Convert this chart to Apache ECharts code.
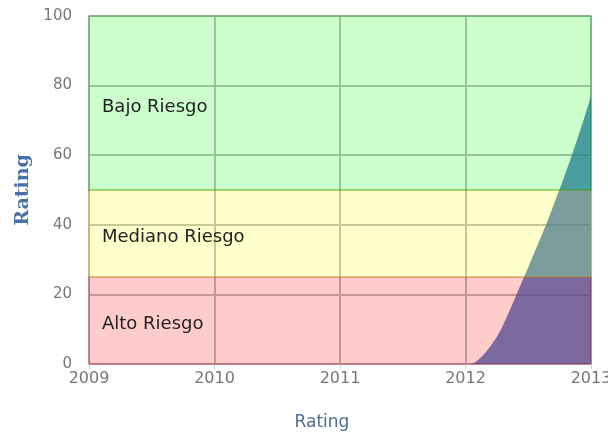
<!DOCTYPE html>
<html>
<head>
<meta charset="utf-8">
<script src="https://cdn.jsdelivr.net/npm/echarts@6/dist/echarts.min.js"></script>
<style>
  html, body { margin: 0; padding: 0; background: #fff; }
  #chart { width: 608px; height: 435px; }
</style>
</head>
<body>
<div id="chart"></div>
<script>
// Rating curve over 2012 (decimal years) and its values
const ratingYears = [2012.044, 2012.08, 2012.12, 2012.16, 2012.2, 2012.25, 2012.3, 2012.35, 2012.4, 2012.45,
  2012.5, 2012.55, 2012.6, 2012.65, 2012.7, 2012.75, 2012.8, 2012.85, 2012.9, 2012.95, 2013];
const ratingValues = [0, 0.6, 1.8, 3.3, 5.2, 7.8, 11.2, 15.2, 19.4, 23.6,
  27.8, 32.1, 36.4, 40.8, 45.5, 50.3, 55.2, 60.3, 65.6, 71.1, 77];

// Risk bands: label, lower and upper rating bound
const bandNames = ['Alto Riesgo', 'Mediano Riesgo', 'Bajo Riesgo'];
const bandLows = [0, 25, 50];
const bandHighs = [25, 50, 100];
const bandFills = ['rgba(255,0,0,0.2)', 'rgba(255,255,0,0.2)', 'rgba(0,255,0,0.2)'];
const bandBorders = ['rgba(180,0,30,0.25)', 'rgba(180,180,0,0.25)', 'rgba(0,140,0,0.25)'];

// Axis ranges and ticks
const xMin = 2009, xMax = 2013, xStep = 1;
const yMin = 0, yMax = 100, yStep = 20;
const axisTitle = 'Rating';

const chart = echarts.init(document.getElementById('chart'));

const bandData = bandNames.map((name, i) => [
  {
    yAxis: bandLows[i],
    xAxis: xMin - 0.01,
    name: name,
    itemStyle: { color: bandFills[i], borderColor: bandBorders[i], borderWidth: 2 }
  },
  { yAxis: bandHighs[i], xAxis: xMax + 0.03 }
]);

chart.setOption({
  animation: false,
  grid: { left: 89, right: 17, top: 16, bottom: 71, containLabel: false, outerBoundsMode: 'none' },
  xAxis: {
    type: 'value',
    min: xMin, max: xMax, interval: xStep,
    name: axisTitle,
    nameLocation: 'middle',
    nameGap: 50,
    nameTextStyle: { color: '#4d6d8f', fontSize: 17, fontFamily: 'DejaVu Sans', padding: [0, 36, 0, 0] },
    axisLine: { show: false },
    axisTick: { show: true, length: 5, lineStyle: { color: '#c0d0e0' } },
    axisLabel: {
      color: '#777', fontSize: 16, fontFamily: 'DejaVu Sans', margin: 7,
      formatter: v => String(v)
    },
    splitLine: { show: true, lineStyle: { color: '#bbbbbb', width: 2 } }
  },
  yAxis: {
    type: 'value',
    min: yMin, max: yMax, interval: yStep,
    name: axisTitle,
    nameLocation: 'middle',
    nameGap: 56,
    nameRotate: 90,
    nameTextStyle: { color: '#4572a7', fontSize: 19, fontWeight: 'bold', fontFamily: 'DejaVu Serif' },
    axisLine: { show: false },
    axisTick: { show: false },
    axisLabel: { color: '#777', fontSize: 15, fontFamily: 'DejaVu Sans', margin: 17 },
    splitLine: { show: true, lineStyle: { color: '#bbbbbb', width: 2 } }
  },
  series: [
    {
      type: 'line',
      z: 2,
      smooth: 0.3,
      symbol: 'none',
      lineStyle: { width: 0 },
      areaStyle: { color: 'rgba(36,91,177,0.75)', opacity: 1 },
      data: ratingYears.map((x, i) => [x, ratingValues[i]])
    },
    {
      type: 'line',
      z: 3,
      data: [],
      markArea: {
        silent: true,
        z: 3,
        label: {
          show: true,
          position: 'insideLeft',
          distance: 14,
          offset: [0, 4],
          color: '#222',
          fontSize: 18,
          fontFamily: 'DejaVu Sans'
        },
        data: bandData
      }
    }
  ]
});
</script>
</body>
</html>
